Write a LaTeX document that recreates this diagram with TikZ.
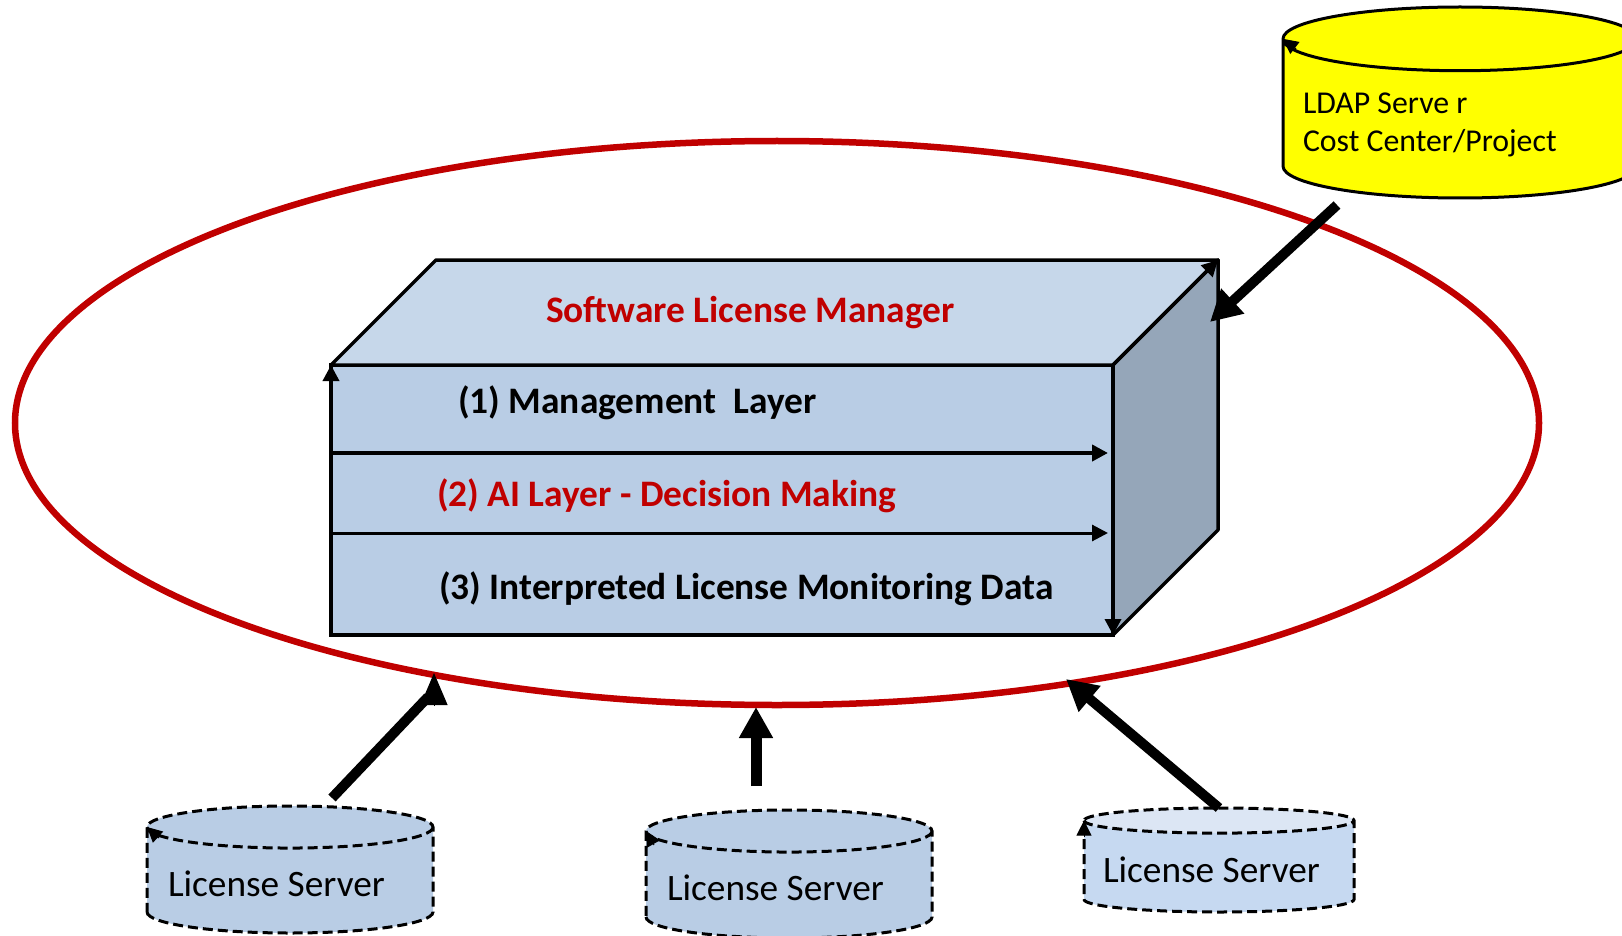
\documentclass[tikz,border=0pt]{standalone}
\usepackage{fontspec}
\setmainfont{Carlito}
\usetikzlibrary{arrows.meta,shapes.geometric}
\definecolor{ringred}{HTML}{C00000}
\definecolor{frontblue}{HTML}{B9CDE5}
\definecolor{topblue}{HTML}{C6D7EA}
\definecolor{sideblue}{HTML}{95A6B9}
\definecolor{paleblue}{HTML}{C6D9F1}
\definecolor{paletop}{HTML}{DCE6F4}
\definecolor{ldapyellow}{RGB}{255,255,0}

\begin{document}
\begin{tikzpicture}[x=1pt,y=-1pt]
		\tikzstyle{every node}=[inner sep=0pt,outer sep=0pt]
		\tikzstyle{layer}=[anchor=base west,font=\fontsize{37.4}{44}\selectfont\bfseries]
		\tikzstyle{srvlabel}=[anchor=base west,font=\fontsize{37.3}{44}\selectfont]
		\tikzstyle{srv}=[cylinder,shape border rotate=90,anchor=shape center,draw,line width=3pt,dash pattern=on 10pt off 5pt,inner ysep=0pt,cylinder uses custom fill,cylinder body fill=frontblue,cylinder end fill=frontblue]
		\tikzstyle{bigarrow}=[line width=11pt,-{Triangle[length=31pt,width=32pt]}]
		\tikzstyle{thinarrow}=[line width=3.5pt,-{Triangle[length=16pt,width=16pt]}]
		\useasboundingbox (0,0) rectangle (1622,936);

		\node (ring) at (777,423) [ellipse,draw=ringred,line width=6.5pt,minimum width=1524pt,minimum height=564pt] {};

		% the box
		\node (front) at (722,500) [draw,line width=3.5pt,fill=frontblue,minimum width=782pt,minimum height=270pt] {};
		\coordinate (backl) at (436,260);
		\coordinate (backr) at (1218,260);
		\coordinate (backb) at (1218,530);
		\draw [line width=3.5pt,line join=round,fill=topblue] (front.north west) -- (backl) -- (backr) -- (front.north east) -- cycle;
		\draw [line width=3.5pt,line join=round,fill=sideblue] (front.north east) -- (backr) -- (backb) -- (front.south east) -- cycle;
		\path [thinarrow] (front.south west) edge (front.north west);
		\path [thinarrow] (front.north east) edge (backr);
		\path [thinarrow] (front.north east) edge (front.south east);

		\coordinate (l1a) at (331,453);
		\coordinate (l1b) at (1108,453);
		\coordinate (l2a) at (331,533);
		\coordinate (l2b) at (1108,533);
		\path [thinarrow,line width=4pt] (l1a) edge (l1b);
		\path [thinarrow,line width=3pt] (l2a) edge (l2b);

		\node (title) at (546,322.5) [layer,text=ringred] {Software License Manager};
		\node (mgmt) at (458,413) [layer] {(1) Management\ \ Layer};
		\node (ai) at (437,506) [layer,text=ringred] {(2) AI Layer - Decision Making};
		\node (data) at (439,599) [layer] {(3) Interpreted License Monitoring Data};

		% ldap
		\node (ldap) at (1460,102.5) [srv,solid,inner xsep=177pt,shape aspect=0.18,minimum width=354pt,minimum height=191pt,cylinder body fill=ldapyellow,cylinder end fill=ldapyellow] {};
		\node (ldaptxt) at (1303,114) [anchor=base west,font=\fontsize{31.8}{39}\selectfont] {LDAP Serve r};
		\node (costtxt) at (1303,152) [anchor=base west,font=\fontsize{31.8}{39}\selectfont] {Cost Center/Project};

		% servers
		\node (srv1) at (290,869.5) [srv,inner xsep=143pt,shape aspect=0.147,minimum width=286pt,minimum height=127pt] {};
		\node (srv2) at (789,874) [srv,inner xsep=143pt,shape aspect=0.147,minimum width=285pt,minimum height=128pt] {};
		\node (srv3) at (1219,860) [srv,inner xsep=135pt,shape aspect=0.093,minimum width=270pt,minimum height=104pt,cylinder body fill=paleblue,cylinder end fill=paletop] {};
		\node (lbl1) at (168,896) [srvlabel] {License Server};
		\node (lbl2) at (667,900) [srvlabel] {License Server};
		\node (lbl3) at (1103,882) [srvlabel] {License Server};

		% small tips on the cylinders
		\tikzstyle{minitip}=[line width=1pt,-{Triangle[length=15pt,width=15pt]}]
		\path [minitip] ([xshift=13pt,yshift=-10pt]ldap.before top) edge (ldap.before top);
		\path [minitip] ([xshift=12pt,yshift=-11pt]srv1.before top) edge (srv1.before top);
		\path [minitip] ([xshift=8pt,yshift=-14pt]srv2.before top) edge (srv2.before top);
		\path [minitip] ([yshift=-16pt]srv3.before top) edge (srv3.before top);

		% arrows into the ring
		\coordinate (a1s) at (332,798);
		\coordinate (a1b) at (428,697);
		\coordinate (a1h) at (434,706);
		\coordinate (a1t) at (434,673);
		\coordinate (a2s) at (756,786);
		\coordinate (a2t) at (756,707);
		\coordinate (a3s) at (1219,808);
		\coordinate (a3t) at (1066,679);
		\coordinate (a4s) at (1337,205);
		\coordinate (a4t) at (1210,322);
		\draw [line width=10pt] (a1s) -- (a1b);
		\path [line width=1pt,-{Triangle[length=32pt,width=27pt]}] (a1h) edge (a1t);
		\path [bigarrow] (a2s) edge (a2t);
		\path [bigarrow,line width=10pt] (a3s) edge (a3t);
		\path [bigarrow,line width=10pt] (a4s) edge (a4t);
	\end{tikzpicture}
\end{document}
